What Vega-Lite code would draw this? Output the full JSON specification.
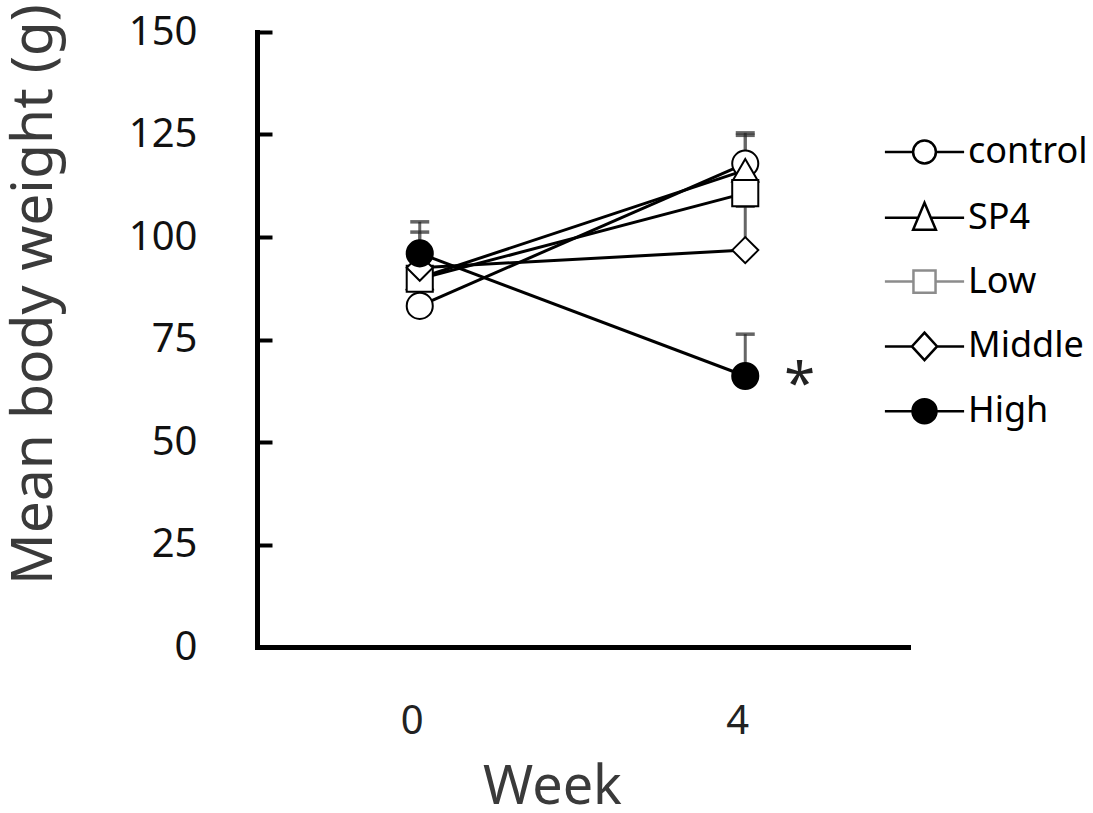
{
  "$schema": "https://vega.github.io/schema/vega-lite/v6.json",
  "width": 651,
  "height": 615,
  "autosize": "none",
  "padding": {"left": 257, "top": 32, "right": 185, "bottom": 166},
  "background": "white",
  "config": {"view": {"stroke": null}, "font": "Noto Sans"},
  "datasets": {
    "means": [
      {"group": "control", "week": 0, "mean": 83.2},
      {"group": "control", "week": 4, "mean": 117.9},
      {"group": "SP4", "week": 0, "mean": 90.0},
      {"group": "SP4", "week": 4, "mean": 116.3},
      {"group": "Low", "week": 0, "mean": 89.8},
      {"group": "Low", "week": 4, "mean": 110.7},
      {"group": "Middle", "week": 0, "mean": 92.5},
      {"group": "Middle", "week": 4, "mean": 96.8},
      {"group": "High", "week": 0, "mean": 96.0},
      {"group": "High", "week": 4, "mean": 66.1}
    ],
    "errors": [
      {"group": "control", "week": 4, "mean": 117.9, "upper": 125.4},
      {"group": "SP4", "week": 4, "mean": 116.3, "upper": 124.8},
      {"group": "Low", "week": 4, "mean": 110.7, "upper": 118.0},
      {"group": "Middle", "week": 0, "mean": 92.5, "upper": 101.2},
      {"group": "Middle", "week": 4, "mean": 96.8, "upper": 107.5},
      {"group": "High", "week": 0, "mean": 96.0, "upper": 103.7},
      {"group": "High", "week": 4, "mean": 66.1, "upper": 76.3}
    ],
    "notes": [
      {"week": 4.67, "mean": 66.1, "label": "*"}
    ]
  },
  "layer": [
    {
      "data": {"name": "errors"},
      "mark": {"type": "rule", "color": "#666666", "strokeWidth": 3},
      "encoding": {
        "x": {
          "field": "week", "type": "quantitative",
          "scale": {"domain": [-2, 6], "nice": false, "zero": false},
          "axis": {
            "values": [0, 4], "format": "d", "ticks": false, "grid": false,
            "domainColor": "black", "domainWidth": 5, "domainCap": "square",
            "labelFontSize": 40, "labelColor": "#222222", "labelPadding": 86,
            "labelBaseline": "alphabetic", "labelOffset": -8, "labelFlush": false,
            "title": "Week", "titleFontSize": 54, "titleColor": "#3a3a3a",
            "titleFontWeight": "normal", "titleX": 295, "titleY": 156,
            "titleBaseline": "alphabetic", "titleAlign": "center"
          }
        },
        "y": {
          "field": "mean", "type": "quantitative",
          "scale": {"domain": [0, 150], "nice": false},
          "axis": {
            "values": [0, 25, 50, 75, 100, 125, 150], "grid": false,
            "domainColor": "black", "domainWidth": 5, "domainCap": "square",
            "tickColor": "black", "tickWidth": 4, "tickSize": -15,
            "labelFontSize": 40, "labelColor": "#111111", "labelPadding": 75,
            "labelFlush": false,
            "title": "Mean body weight (g)", "titleFontSize": 57,
            "titleColor": "#3a3a3a", "titleFontWeight": "normal",
            "titleX": -223, "titleY": 262, "titleAngle": -90,
            "titleBaseline": "middle", "titleAlign": "center"
          }
        },
        "y2": {"field": "upper"}
      }
    },
    {
      "data": {"name": "errors"},
      "mark": {"type": "tick", "orient": "horizontal", "color": "#222222", "thickness": 3.5, "size": 19},
      "encoding": {
        "x": {"field": "week", "type": "quantitative"},
        "y": {"field": "upper", "type": "quantitative"}
      }
    },
    {
      "data": {"name": "means"},
      "mark": {"type": "line", "color": "black", "strokeWidth": 3},
      "encoding": {
        "x": {"field": "week", "type": "quantitative"},
        "y": {"field": "mean", "type": "quantitative"},
        "detail": {"field": "group"},
        "order": {"field": "week"}
      }
    },
    {
      "data": {"name": "means"},
      "transform": [{"filter": "datum.group === 'control'"}],
      "mark": {"type": "point", "shape": "circle", "filled": true, "fill": "white", "stroke": "black", "strokeWidth": 2, "opacity": 1, "size": 680},
      "encoding": {
        "x": {"field": "week", "type": "quantitative"},
        "y": {"field": "mean", "type": "quantitative"}
      }
    },
    {
      "data": {"name": "means"},
      "transform": [{"filter": "datum.group === 'SP4'"}],
      "mark": {"type": "point", "shape": "triangle-up", "filled": true, "fill": "white", "stroke": "black", "strokeWidth": 2, "opacity": 1, "size": 680},
      "encoding": {
        "x": {"field": "week", "type": "quantitative"},
        "y": {"field": "mean", "type": "quantitative"}
      }
    },
    {
      "data": {"name": "means"},
      "transform": [{"filter": "datum.group === 'Low'"}],
      "mark": {"type": "point", "shape": "square", "filled": true, "fill": "white", "stroke": "black", "strokeWidth": 2, "opacity": 1, "size": 680},
      "encoding": {
        "x": {"field": "week", "type": "quantitative"},
        "y": {"field": "mean", "type": "quantitative"}
      }
    },
    {
      "data": {"name": "means"},
      "transform": [{"filter": "datum.group === 'Middle'"}],
      "mark": {"type": "point", "shape": "diamond", "filled": true, "fill": "white", "stroke": "black", "strokeWidth": 2, "opacity": 1, "size": 680},
      "encoding": {
        "x": {"field": "week", "type": "quantitative"},
        "y": {"field": "mean", "type": "quantitative"}
      }
    },
    {
      "data": {"name": "means"},
      "transform": [{"filter": "datum.group === 'High'"}],
      "mark": {"type": "point", "shape": "circle", "filled": true, "fill": "black", "stroke": "black", "strokeWidth": 2, "opacity": 1, "size": 680},
      "encoding": {
        "x": {"field": "week", "type": "quantitative"},
        "y": {"field": "mean", "type": "quantitative"}
      }
    },
    {
      "data": {"name": "means"},
      "mark": {"type": "point", "filled": true, "strokeWidth": 2.5, "opacity": 0, "size": 576},
      "encoding": {
        "x": {"field": "week", "type": "quantitative"},
        "y": {"field": "mean", "type": "quantitative"},
        "fill": {
          "field": "group", "type": "nominal",
          "scale": {"domain": ["control", "SP4", "Low", "Middle", "High"], "range": ["white", "white", "white", "white", "black"]},
          "legend": {
            "orient": "none", "legendX": 649.5, "legendY": 102, "title": null, "padding": 0,
            "symbolSize": 576, "symbolStrokeWidth": 2.5, "symbolOpacity": 1,
            "labelFontSize": 36, "labelColor": "black", "labelOffset": 25.5, "rowPadding": 27.8,
            "labelFont": "Noto Sans"
          }
        },
        "stroke": {
          "field": "group", "type": "nominal",
          "scale": {"domain": ["control", "SP4", "Low", "Middle", "High"], "range": ["black", "black", "#8c8c8c", "black", "black"]},
          "legend": {
            "orient": "none", "legendX": 649.5, "legendY": 102, "title": null, "padding": 0,
            "symbolSize": 576, "symbolStrokeWidth": 2.5, "symbolOpacity": 1,
            "labelFontSize": 36, "labelColor": "black", "labelOffset": 25.5, "rowPadding": 27.8,
            "labelFont": "Noto Sans"
          }
        },
        "shape": {
          "field": "group", "type": "nominal",
          "scale": {
            "domain": ["control", "SP4", "Low", "Middle", "High"],
            "range": [
              "M-3.3,0H-0.95M0.95,0H3.3M-0.95,0A0.95,0.95,0,1,1,0.95,0A0.95,0.95,0,1,1,-0.95,0Z",
              "M-3.3,0H-0.53M0.53,0H3.3M0,-1.25L0.95,1L-0.95,1Z",
              "M-3.3,0H-0.92M0.92,0H3.3M-0.92,-0.92H0.92V0.92H-0.92Z",
              "M-3.3,0H-1.05M1.05,0H3.3M0,-1.15L1.05,0L0,1.15L-1.05,0Z",
              "M-3.3,0H-1M1,0H3.3M-1,0A1,1,0,1,1,1,0A1,1,0,1,1,-1,0Z"
            ]
          },
          "legend": {
            "orient": "none", "legendX": 649.5, "legendY": 102, "title": null, "padding": 0,
            "symbolSize": 576, "symbolStrokeWidth": 2.5, "symbolOpacity": 1,
            "labelFontSize": 36, "labelColor": "black", "labelOffset": 25.5, "rowPadding": 27.8,
            "labelFont": "Noto Sans"
          }
        }
      }
    },
    {
      "data": {"name": "notes"},
      "mark": {"type": "text", "fontSize": 56, "color": "#222222", "baseline": "alphabetic", "align": "center", "dy": 27},
      "encoding": {
        "x": {"field": "week", "type": "quantitative"},
        "y": {"field": "mean", "type": "quantitative"},
        "text": {"field": "label"}
      }
    }
  ]
}
